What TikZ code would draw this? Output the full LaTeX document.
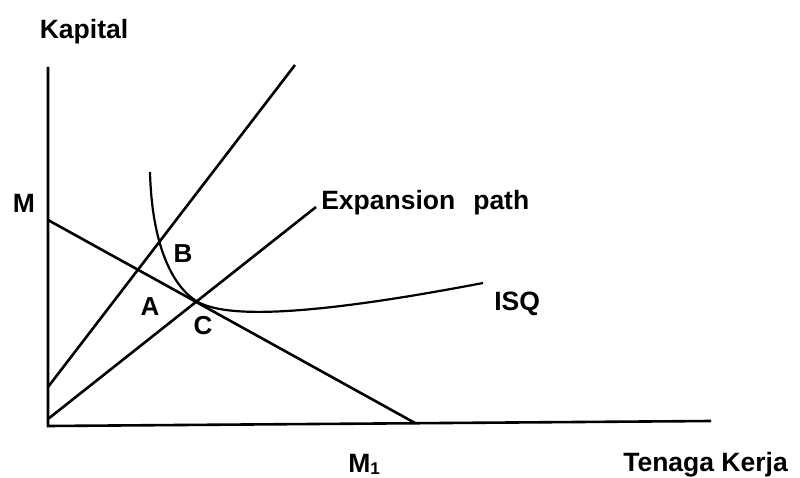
\documentclass[tikz,border=0pt]{standalone}
\usepackage{fontspec}
\setmainfont{Liberation Sans}
\begin{document}
\begin{tikzpicture}[x=1pt,y=-1pt,line width=2.6pt,
  lbl/.style={inner sep=0pt,font=\bfseries\fontsize{26.5}{28}\selectfont},
  pt/.style={inner sep=0pt,font=\bfseries\fontsize{26}{27}\selectfont},
  isq/.style={line width=2.2pt}]
\useasboundingbox (0,0) rectangle (800,478);
% axes
\coordinate (O) at (48,426);
\coordinate (Ytop) at (48,67);
\coordinate (Xend) at (711,421);
\draw (Ytop) -- (O) -- (Xend);
% budget line M -- M1
\coordinate (M) at (48,220);
\coordinate (M1) at (415,423);
\draw (M) -- (M1);
% steeper ray
\coordinate (R0) at (48,387);
\coordinate (R1) at (295,65);
\draw (R0) -- (R1);
% expansion path
\coordinate (E0) at (48,419);
\coordinate (E1) at (316,207);
\draw (E0) -- (E1);
% isoquant
\coordinate (Q0) at (150,172);
\coordinate (QC) at (198,302);
\coordinate (Q1) at (483,283);
\draw[isq] (Q0) .. controls (152,250) and (175,289) .. (QC)
  .. controls (225,317) and (300,318) .. (Q1);
% labels
\node[lbl,anchor=base] (kap) at (84,39) {Kapital};
\node[lbl,anchor=base] (mlab) at (24,213) {M};
\node[pt,anchor=base] (blab) at (183,262) {B};
\node[pt,anchor=base] (alab) at (150,315) {A};
\node[pt,anchor=base] (clab) at (203,334) {C};
\node[lbl,anchor=base west] (exp) at (320,210) {Expansion\hspace{18pt}path};
\node[lbl,anchor=base west] (isqlab) at (493,310) {ISQ};
\node[lbl,anchor=base west] (m1lab) at (347,472) {M\raisebox{-2pt}{\fontsize{17}{17}\selectfont 1}};
\node[lbl,anchor=base west] (tk) at (622,471) {Tenaga Kerja};
\end{tikzpicture}
\end{document}
